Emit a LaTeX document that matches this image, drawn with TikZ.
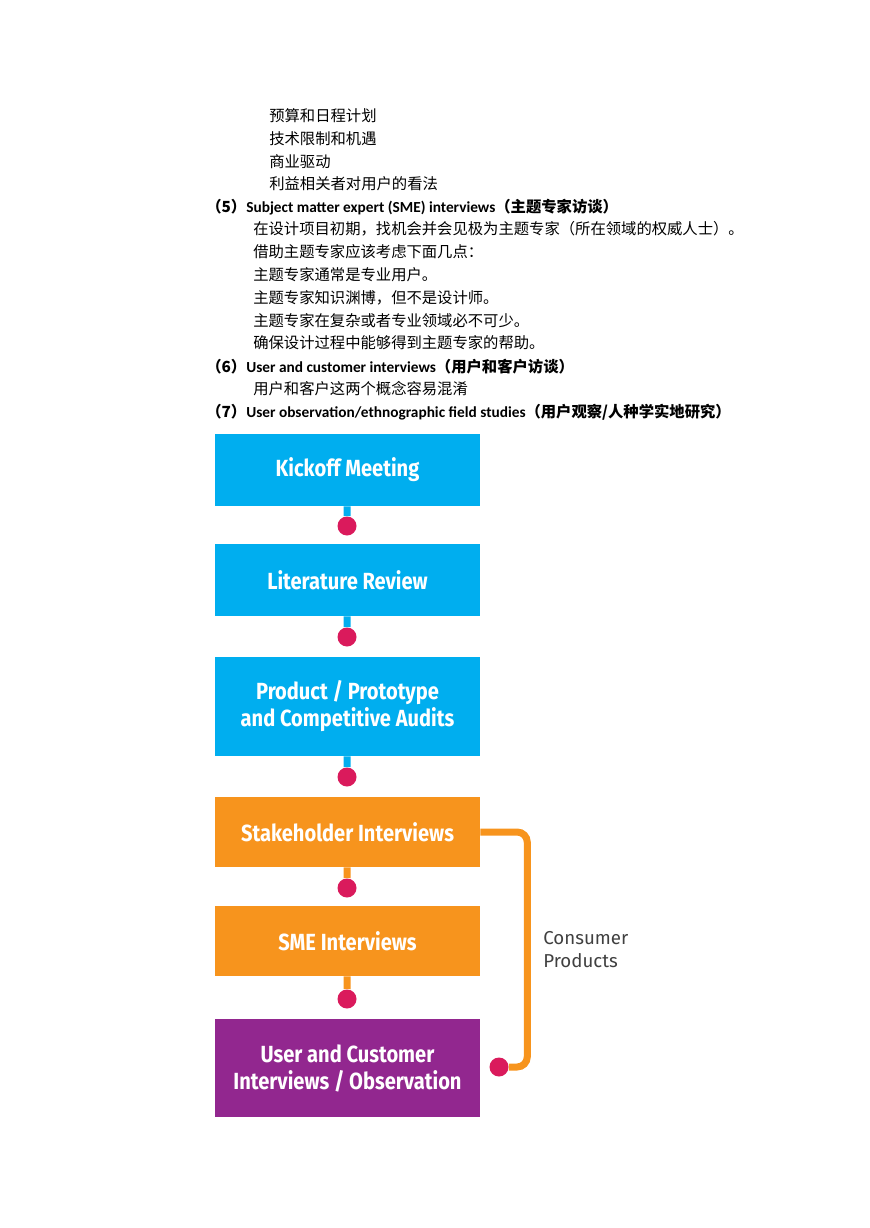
\documentclass[tikz,border=0pt]{standalone}
\usepackage{fontspec}
\newfontfamily\cjk{Noto Sans CJK SC}
\newfontfamily\hdfont{Carlito}
\newfontfamily\boxfont[FakeStretch=0.86]{Fira Sans}
\newfontfamily\notefont{Fira Sans}

\definecolor{stageblue}{RGB}{0,174,239}
\definecolor{stageorange}{RGB}{247,148,29}
\definecolor{stagepurple}{RGB}{146,39,143}
\definecolor{dotred}{RGB}{218,26,92}
\definecolor{notegray}{RGB}{64,64,64}

\def\px{0.685pt}

\tikzset{
	stage/.style = {fill = #1, text = white, minimum width = 265*\px, inner sep = 0, align = center,
		font = \boxfont\bfseries\fontsize{16}{18.5}\selectfont},
	stub/.style = {draw = #1, line width = 7*\px},
	dot/.style = {circle, fill = dotred, minimum size = 19*\px, inner sep = 0},
	line/.style = {anchor = west, inner sep = 0, font = \cjk\fontsize{10.5}{12}\selectfont},
	head/.style = {anchor = west, inner sep = 0, font = \fontsize{10.5}{12}\selectfont}
}

\newcommand{\headline}[3]{{\cjk\bfseries （#1）}{\hdfont\bfseries #2}{\cjk\bfseries （#3）}}

\begin{document}
\begin{tikzpicture}[x = 0.685pt, y = -0.685pt]
	\useasboundingbox (0, 0) rectangle (869, 1228);
	
	%	text above
	\foreach \txt [count = \i] in {预算和日程计划, 技术限制和机遇, 商业驱动, 利益相关者对用户的看法}
		\node[line] (need\i) at (269, {116 + (\i - 1) * 22.7}) {\txt};
	
	\node[head] (sme) at (206, 207) {\headline{5}{Subject matter expert (SME) interviews}{主题专家访谈}};
	
	\foreach \txt [count = \i] in {在设计项目初期，找机会并会见极为主题专家（所在领域的权威人士）。,
		借助主题专家应该考虑下面几点：, 主题专家通常是专业用户。, 主题专家知识渊博，但不是设计师。,
		主题专家在复杂或者专业领域必不可少。, 确保设计过程中能够得到主题专家的帮助。}
		\node[line] (smeline\i) at (253, {229 + (\i - 1) * 22.8}) {\txt};
	
	\node[head] (user) at (206, 367) {\headline{6}{User and customer interviews}{用户和客户访谈}};
	\node[line] (userline) at (253, 389) {用户和客户这两个概念容易混淆};
	\node[head] (obs) at (206, 412) {\headline{7}{User observation/ethnographic field studies}{用户观察/人种学实地研究}};
	
	%	stages
	\node[stage = stageblue, minimum height = 72*\px] (kick) at (347.5, 470) {Kickoff Meeting};
	\node[stage = stageblue, minimum height = 72*\px] (lit) at (347.5, 580) {Literature Review};
	\node[stage = stageblue, minimum height = 99*\px] (audit) at (347.5, 706.5) {Product / Prototype\\and Competitive Audits};
	\node[stage = stageorange, minimum height = 70*\px] (stake) at (347.5, 832) {Stakeholder Interviews};
	\node[stage = stageorange, minimum height = 70*\px] (smebox) at (347.5, 941) {SME Interviews};
	\node[stage = stagepurple, minimum height = 98*\px] (userbox) at (347.5, 1068) {User and Customer\\Interviews / Observation};
	
	%	dots
	\node[dot] (d1) at (347, 526) {};
	\node[dot] (d2) at (347, 637) {};
	\node[dot] (d3) at (347, 777) {};
	\node[dot] (d4) at (347, 888) {};
	\node[dot] (d5) at (347, 999) {};
	\node[dot] (d6) at (499, 1067) {};
	
	\draw[stub = stageblue] (kick) -- (d1);
	\draw[stub = stageblue] (lit) -- (d2);
	\draw[stub = stageblue] (audit) -- (d3);
	\draw[stub = stageorange] (stake) -- (d4);
	\draw[stub = stageorange] (smebox) -- (d5);
	
	%	consumer products
	\draw[draw = stageorange, line width = 7*\px, rounded corners = 7pt] (stake.east) -- ++(47, 0) |- (d6);
	\node[anchor = west, inner sep = 0, align = left, text = notegray,
		font = \notefont\fontsize{12.8}{15.8}\selectfont] (note) at (543, 950) {Consumer\\Products};
\end{tikzpicture}
\end{document}
